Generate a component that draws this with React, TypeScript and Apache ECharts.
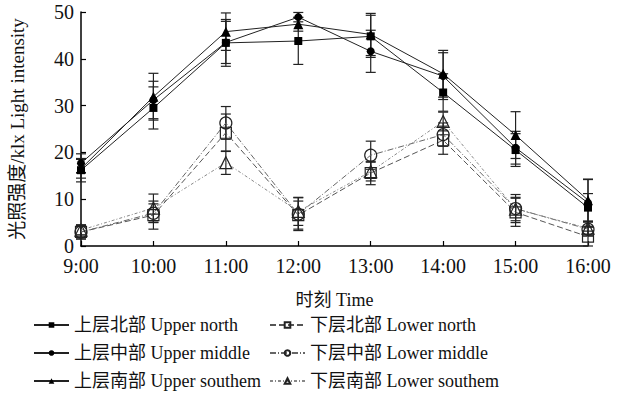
import React, { useEffect, useRef } from "react";
import * as echarts from "echarts";

const categories = ["9:00", "10:00", "11:00", "12:00", "13:00", "14:00", "15:00", "16:00"];
const seriesNames = [
  "上层北部 Upper north",
  "上层中部 Upper middle",
  "上层南部 Upper southem",
  "下层北部 Lower north",
  "下层中部 Lower middle",
  "下层南部 Lower southem",
];
const upperNorth = [16.2, 29.5, 43.4, 43.8, 44.8, 32.8, 20.5, 8.2];
const upperMiddle = [17.7, 31.2, 43.5, 48.9, 41.6, 36.3, 21.0, 9.2];
const upperSouth = [16.5, 31.9, 45.8, 47.4, 45.2, 36.8, 23.7, 9.8];
const lowerNorth = [3.0, 6.6, 24.2, 6.6, 15.6, 22.6, 7.2, 2.0];
const lowerMiddle = [3.0, 7.0, 26.3, 6.8, 19.4, 23.8, 8.0, 3.6];
const lowerSouth = [3.4, 8.1, 17.8, 7.4, 15.9, 26.6, 7.9, 3.8];
const upperNorthSd = [2.5, 4.5, 5.0, 5.0, 4.5, 4.0, 3.5, 3.0];
const upperMiddleSd = [2.0, 4.0, 4.5, 1.0, 4.5, 5.0, 3.5, 5.0];
const upperSouthSd = [2.0, 5.0, 4.0, 1.5, 4.5, 5.0, 5.0, 4.5];
const lowerNorthSd = [1.5, 3.0, 4.0, 3.0, 2.5, 3.0, 3.0, 2.0];
const lowerMiddleSd = [1.5, 2.0, 3.5, 3.5, 3.0, 2.5, 3.0, 1.5];
const lowerSouthSd = [1.0, 3.0, 2.5, 3.0, 2.0, 2.0, 2.5, 1.5];
const yTicks = { min: 0, max: 50, interval: 10 };

const FONT = "'Liberation Serif', 'Noto Sans CJK SC', serif";

export default function App() {
  const ref = useRef<HTMLDivElement>(null);
  useEffect(() => {
    if (!ref.current) return;
    const chart = echarts.init(ref.current, null, { renderer: "svg" });
    const values = [upperNorth, upperMiddle, upperSouth, lowerNorth, lowerMiddle, lowerSouth];
    const sds = [upperNorthSd, upperMiddleSd, upperSouthSd, lowerNorthSd, lowerMiddleSd, lowerSouthSd];
    const symbols = ["rect", "circle", "triangle", "rect", "circle", "triangle"];
    const symbolSizes = [8, 8, 10, 11, 12, 12];
    const dashes: any[] = ["solid", "solid", "solid", [6, 3], [6, 2, 1, 2], [3, 2, 1, 2]];
    const lineColors = ["#222", "#222", "#222", "#555", "#666", "#888"];

    const lineSeries = values.map((v, i) => ({
      name: seriesNames[i],
      type: "line",
      data: v,
      symbol: symbols[i],
      symbolSize: symbolSizes[i],
      z: 3,
      lineStyle: { color: lineColors[i], width: 1, type: dashes[i] },
      itemStyle:
        i < 3
          ? { color: "#000", borderColor: "#000", borderWidth: 0 }
          : { color: "rgba(255,255,255,0)", borderColor: "#222", borderWidth: 1.2 },
    }));

    const errSeries = values.map((v, i) => ({
      name: "err" + i,
      type: "custom",
      z: 2,
      silent: true,
      data: v.map((val, j) => [j, val - sds[i][j], val + sds[i][j]]),
      renderItem: (params: any, api: any) => {
        const x = api.value(0);
        const lo = api.coord([x, api.value(1)]);
        const hi = api.coord([x, api.value(2)]);
        const w = 5;
        const style = { stroke: "#222", lineWidth: 1.2 };
        return {
          type: "group",
          children: [
            { type: "line", shape: { x1: lo[0], y1: lo[1], x2: hi[0], y2: hi[1] }, style },
            { type: "line", shape: { x1: lo[0] - w, y1: lo[1], x2: lo[0] + w, y2: lo[1] }, style },
            { type: "line", shape: { x1: hi[0] - w, y1: hi[1], x2: hi[0] + w, y2: hi[1] }, style },
          ],
        };
      },
    }));

    const legendBase = {
      orient: "vertical",
      padding: 0,
      itemWidth: 35,
      itemHeight: 7,
      itemGap: 10,
      textStyle: { fontFamily: FONT, fontSize: 18, color: "#111" },
    };

    chart.setOption({
      animation: false,
      backgroundColor: "#fff",
      grid: { left: 77, right: 34, top: 12, bottom: 152 },
      legend: [
        { ...legendBase, left: 33, top: 316, data: seriesNames.slice(0, 3) },
        { ...legendBase, left: 269, top: 316, data: seriesNames.slice(3) },
      ],
      xAxis: {
        type: "category",
        data: categories,
        boundaryGap: false,
        name: "时刻 Time",
        nameLocation: "middle",
        nameGap: 45,
        nameTextStyle: { fontFamily: FONT, fontSize: 18, color: "#111" },
        axisLine: { lineStyle: { color: "#000", width: 1.5 } },
        axisTick: { inside: true, length: 5, lineStyle: { color: "#000", width: 1.2 } },
        axisLabel: { fontFamily: FONT, fontSize: 20, color: "#111", margin: 10 },
        splitLine: { show: false },
      },
      yAxis: {
        type: "value",
        ...yTicks,
        name: "光照强度/klx Light intensity",
        nameLocation: "middle",
        nameGap: 54,
        nameRotate: 90,
        nameTextStyle: { fontFamily: FONT, fontSize: 19, color: "#111" },
        axisLine: { show: true, lineStyle: { color: "#000", width: 1.5 } },
        axisTick: { show: true, inside: true, length: 5, lineStyle: { color: "#000", width: 1.2 } },
        axisLabel: { fontFamily: FONT, fontSize: 20, color: "#111", margin: 7 },
        splitLine: { show: false },
      },
      series: [...errSeries, ...lineSeries],
    });
    return () => chart.dispose();
  }, []);
  return <div ref={ref} style={{ width: 622, height: 398, position: "absolute", left: 0, top: 0 }} />;
}
